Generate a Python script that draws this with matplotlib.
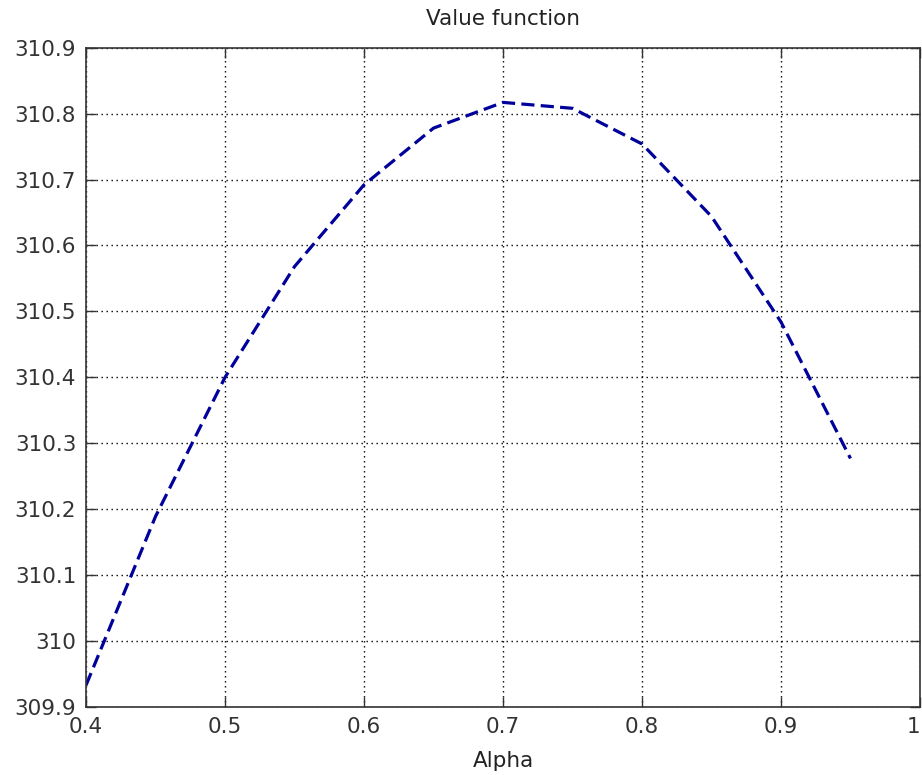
import matplotlib.pyplot as plt
import matplotlib as mpl

plt.rc('font', family=['DejaVu Sans'])
mpl.rcParams['lines.scale_dashes'] = False

# values
alpha = [0.40, 0.45, 0.50, 0.55, 0.60, 0.65, 0.70, 0.75, 0.80, 0.85, 0.90, 0.95]
value = [309.933, 310.189, 310.400, 310.568, 310.692, 310.778,
         310.817, 310.808, 310.754, 310.644, 310.484, 310.277]

x_ticks = [0.4, 0.5, 0.6, 0.7, 0.8, 0.9, 1.0]
x_ticklabels = ['0.4', '0.5', '0.6', '0.7', '0.8', '0.9', '1']
y_ticks = [309.9, 310.0, 310.1, 310.2, 310.3, 310.4, 310.5, 310.6, 310.7, 310.8, 310.9]
y_ticklabels = ['309.9', '310', '310.1', '310.2', '310.3', '310.4',
                '310.5', '310.6', '310.7', '310.8', '310.9']


def main():
    fig = plt.figure(figsize=(9.22, 7.75), dpi=100)
    ax = fig.add_axes([0.0933, 0.0877, 0.9045, 0.8508])

    ax.plot(alpha, value, color='#00009a', linewidth=2.3, dashes=(9.5, 4.5))

    ax.set_xlim(0.4, 1.0)
    ax.set_ylim(309.9, 310.9)
    ax.set_xticks(x_ticks)
    ax.set_xticklabels(x_ticklabels)
    ax.set_yticks(y_ticks)
    ax.set_yticklabels(y_ticklabels)

    ax.grid(True, color='black', linewidth=1.0, dashes=(1.0, 2.6))
    ax.set_axisbelow(True)

    ax.tick_params(direction='in', length=7, width=1.0, labelsize=15.5,
                   top=True, right=True, colors='#333333', pad=7)
    # last x label sits at the figure edge, keep it inside
    ax.get_xticklabels()[-1].set_horizontalalignment('right')
    for s in ax.spines.values():
        s.set_linewidth(1.2)
        s.set_color('#333333')

    ax.set_title('Value function', fontsize=15.5, pad=16, color='#222222')
    ax.set_xlabel('Alpha', fontsize=15.5, labelpad=10, color='#222222')

    plt.savefig('out.png', dpi=100)


if __name__ == '__main__':
    main()
